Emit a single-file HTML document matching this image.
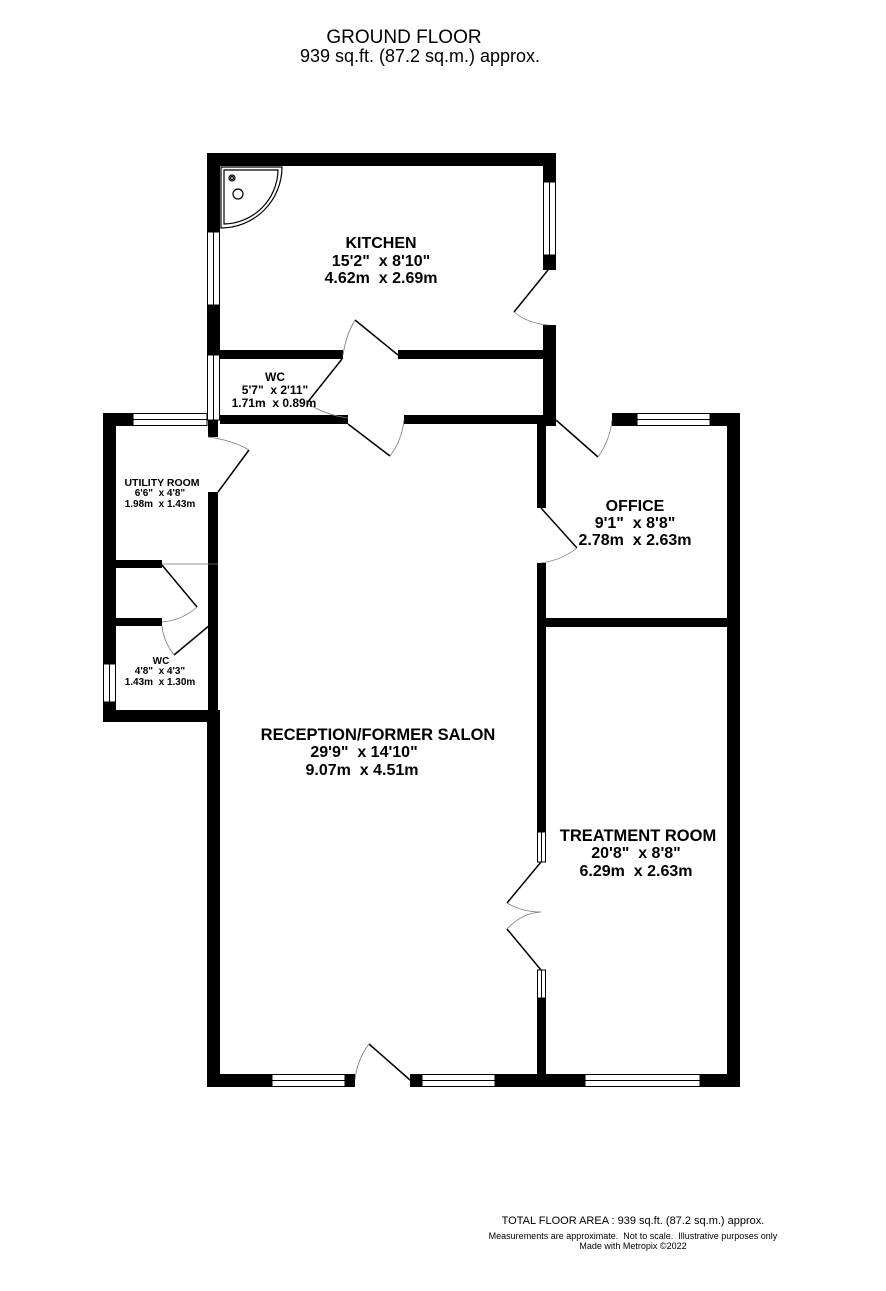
<!DOCTYPE html>
<html><head><style>body{margin:0;background:#fff}svg{display:block}text{font-family:"Liberation Sans",sans-serif;text-anchor:middle;white-space:pre}</style></head><body>
<svg width="886" height="1291" viewBox="0 0 886 1291" xmlns="http://www.w3.org/2000/svg" xml:space="preserve">
<text x="404" y="43" font-size="19">GROUND FLOOR</text>
<text x="420" y="62" font-size="18">939 sq.ft. (87.2 sq.m.) approx.</text>
<g fill="#000">
<rect x="207" y="153" width="349" height="13"/>
<rect x="207" y="153" width="13" height="79"/>
<rect x="207" y="305" width="13" height="50"/>
<rect x="543" y="153" width="13" height="29"/>
<rect x="543" y="255" width="13" height="15"/>
<rect x="543" y="325" width="13" height="101"/>
<rect x="220" y="350" width="123" height="9"/>
<rect x="398" y="350" width="145" height="9"/>
<rect x="220" y="415" width="128" height="9"/>
<rect x="404" y="415" width="152" height="9"/>
<rect x="103" y="413" width="30" height="13"/>
<rect x="208" y="420" width="10" height="17"/>
<rect x="103" y="413" width="13" height="251"/>
<rect x="103" y="702" width="13" height="20"/>
<rect x="103" y="710" width="117" height="12"/>
<rect x="208" y="492" width="10" height="225"/>
<rect x="116" y="560" width="46" height="8"/>
<rect x="116" y="618" width="46" height="8"/>
<rect x="207" y="715" width="13" height="372"/>
<rect x="537" y="424" width="9" height="84"/>
<rect x="537" y="563" width="9" height="269"/>
<rect x="537" y="998" width="9" height="80"/>
<rect x="207" y="1074" width="65" height="13"/>
<rect x="345" y="1074" width="10" height="13"/>
<rect x="410" y="1074" width="12" height="13"/>
<rect x="495" y="1074" width="90" height="13"/>
<rect x="700" y="1074" width="40" height="13"/>
<rect x="612" y="413" width="25" height="13"/>
<rect x="710" y="413" width="30" height="13"/>
<rect x="727" y="413" width="13" height="674"/>
<rect x="546" y="618" width="181" height="9"/>
</g>
<g fill="#fff" stroke="#000" stroke-width="1">
<rect x="207.5" y="232" width="12" height="73"/><line x1="213.5" y1="232" x2="213.5" y2="305"/>
<rect x="543.5" y="182" width="12" height="73"/><line x1="549.5" y1="182" x2="549.5" y2="255"/>
<rect x="207.5" y="355" width="12" height="65"/><line x1="213.5" y1="355" x2="213.5" y2="420"/>
<rect x="133" y="413.5" width="74" height="12"/><line x1="133" y1="419.5" x2="207" y2="419.5"/>
<rect x="103.5" y="664" width="12" height="38"/><line x1="109.5" y1="664" x2="109.5" y2="702"/>
<rect x="537.5" y="832" width="8" height="30"/><line x1="541.5" y1="832" x2="541.5" y2="862"/>
<rect x="537.5" y="970" width="8" height="28"/><line x1="541.5" y1="970" x2="541.5" y2="998"/>
<rect x="272" y="1074.5" width="73" height="12"/><line x1="272" y1="1080.5" x2="345" y2="1080.5"/>
<rect x="422" y="1074.5" width="73" height="12"/><line x1="422" y1="1080.5" x2="495" y2="1080.5"/>
<rect x="585" y="1074.5" width="115" height="12"/><line x1="585" y1="1080.5" x2="700" y2="1080.5"/>
<rect x="637" y="413.5" width="73" height="12"/><line x1="637" y1="419.5" x2="710" y2="419.5"/>
</g>
<g fill="none" stroke="#000" stroke-width="1.5">
<line x1="548" y1="270" x2="514" y2="312"/>
<line x1="355" y1="320" x2="398" y2="355"/>
<line x1="342" y1="359" x2="307" y2="403"/>
<line x1="348" y1="424" x2="390" y2="456"/>
<line x1="218" y1="492" x2="249" y2="450"/>
<line x1="162" y1="565" x2="197" y2="607"/>
<line x1="210" y1="625" x2="174" y2="655"/>
<line x1="556" y1="420" x2="598" y2="457"/>
<line x1="541" y1="508" x2="577" y2="548"/>
<line x1="541" y1="862" x2="507" y2="903"/>
<line x1="541" y1="970" x2="507" y2="929"/>
<line x1="369" y1="1044" x2="410" y2="1080"/>
</g>
<g fill="none" stroke="#777" stroke-width="0.8">
<path d="M514 312 Q527 323 548 325"/>
<path d="M355 320 Q346 335 343 355"/>
<path d="M307 403 Q325 415 348 418"/>
<path d="M390 456 Q402 440 404 420"/>
<path d="M208 437 Q232 440 249 450"/>
<path d="M197 607 Q183 620 162 622"/>
<path d="M174 655 Q163 640 162 626"/>
<path d="M598 457 Q610 440 612 420"/>
<path d="M577 548 Q562 560 541 563"/>
<path d="M507 903 Q522 912 541 912 Q522 913 507 929"/>
<path d="M369 1044 Q357 1060 355 1080"/>
<line x1="162" y1="564" x2="218" y2="564"/>
</g>
<g fill="none" stroke="#000" stroke-width="1.2">
<path d="M221 167 L282 167 A61 61 0 0 1 221 228 Z"/>
<path d="M224 170 L278 170 A55 55 0 0 1 224 224 Z"/>
<circle cx="238" cy="194" r="5"/>
<circle cx="232" cy="178" r="3"/><circle cx="232" cy="178" r="1.5"/>
</g>
<g font-weight="bold" fill="#000">
<text x="381" y="248" font-size="16">KITCHEN</text>
<text x="381" y="266" font-size="16">15'2"  x 8'10"</text>
<text x="381" y="283" font-size="16">4.62m  x 2.69m</text>
<text x="275" y="381" font-size="12">WC</text>
<text x="275" y="394" font-size="12">5'7"  x 2'11"</text>
<text x="274" y="407" font-size="12">1.71m  x 0.89m</text>
<text x="162" y="486" font-size="10.5">UTILITY ROOM</text>
<text x="160" y="496" font-size="10">6'6"  x 4'8"</text>
<text x="160" y="507" font-size="10">1.98m  x 1.43m</text>
<text x="161" y="664" font-size="10">WC</text>
<text x="160" y="674" font-size="10">4'8"  x 4'3"</text>
<text x="160" y="685" font-size="10">1.43m  x 1.30m</text>
<text x="635" y="511" font-size="16">OFFICE</text>
<text x="635" y="528" font-size="16">9'1"  x 8'8"</text>
<text x="635" y="545" font-size="16">2.78m  x 2.63m</text>
<text x="378" y="740" font-size="16.5">RECEPTION/FORMER SALON</text>
<text x="364" y="757" font-size="16">29'9"  x 14'10"</text>
<text x="362" y="775" font-size="16">9.07m  x 4.51m</text>
<text x="638" y="841" font-size="16.5">TREATMENT ROOM</text>
<text x="636" y="858" font-size="16">20'8"  x 8'8"</text>
<text x="636" y="876" font-size="16">6.29m  x 2.63m</text>
</g>
<text x="633" y="1224" font-size="11">TOTAL FLOOR AREA : 939 sq.ft. (87.2 sq.m.) approx.</text>
<text x="633" y="1239" font-size="9">Measurements are approximate.  Not to scale.  Illustrative purposes only</text>
<text x="633" y="1249" font-size="9">Made with Metropix ©2022</text>
</svg>
</body></html>
